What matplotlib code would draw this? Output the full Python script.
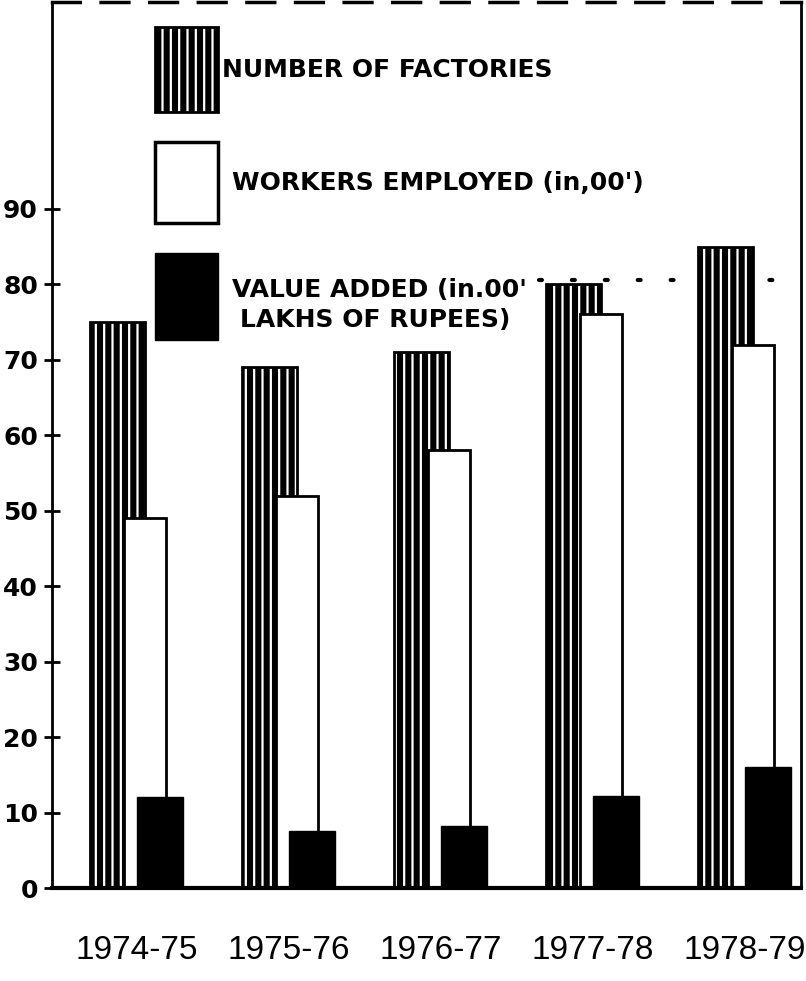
import numpy as np
import matplotlib.pyplot as plt

# Dades llegides del gràfic
anys = ['1974-75', '1975-76', '1976-77', '1977-78', '1978-79']
fabriques = [75, 69, 71, 80, 85]
treballadors = [49, 52, 58, 76, 72]       # en centenars
valor_afegit = [12, 7.5, 8.2, 12.2, 16]   # en centenars de lakhs de rupies
yticks = [0, 10, 20, 30, 40, 50, 60, 70, 80, 90]
nivell_punts = 80.6                       # línia de punts prop de 80

plt.rcParams['hatch.linewidth'] = 1.6

W, H = 806, 981
fig = plt.figure(figsize=(W / 100, H / 100), dpi=100)
# eixos col·locats segons els píxels de l'original
ax = fig.add_axes([52 / W, 1 - 888 / H, (801 - 52) / W, (888 - 2) / H])

x = np.arange(len(anys))

# número de fàbriques: negre amb ratlles blanques verticals
ax.bar(x - 0.125, fabriques, width=0.36, color='black', edgecolor='white',
       hatch='||', linewidth=0, zorder=1)
ax.bar(x - 0.125, fabriques, width=0.36, fill=False, edgecolor='black',
       linewidth=2, zorder=1.5)
# treballadors: blanc amb vora negra
ax.bar(x + 0.056, treballadors, width=0.28, color='white', edgecolor='black',
       linewidth=2, zorder=2)
# valor afegit: negre sòlid
ax.bar(x + 0.155, valor_afegit, width=0.30, color='black', edgecolor='black',
       linewidth=1, zorder=3)

# línia de punts a l'altura de 80
ax.plot([2.65, 4.2], [nivell_punts, nivell_punts], color='black', linewidth=3,
        dashes=(0.7, 7.2), dash_capstyle='round', zorder=0.5)

ax.set_xlim(-0.556, 4.372)
ax.set_ylim(0, 117.4)

ax.set_yticks(yticks)
ax.set_yticklabels([str(v) for v in yticks], fontsize=18, fontweight='bold')
ax.tick_params(axis='y', direction='inout', length=12, width=2, pad=4)

ax.set_xticks(x)
ax.set_xticklabels(anys, fontsize=24, family='Liberation Sans')
ax.tick_params(axis='x', length=0, pad=34)

ax.spines['left'].set_linewidth(2)
ax.spines['bottom'].set_linewidth(3)
ax.spines['right'].set_linewidth(2)
ax.spines['top'].set_linewidth(2.5)
ax.spines['top'].set_linestyle((0, (8, 6)))

# llegenda dibuixada a mà
def px(xp, yp):
    return xp / W, 1 - yp / H

def caixa(x0, y0, x1, y1, **kw):
    fx, fy = px(x0, y1)
    r = plt.Rectangle((fx, fy), (x1 - x0) / W, (y1 - y0) / H,
                      transform=fig.transFigure, **kw)
    fig.add_artist(r)

caixa(155, 27, 218, 112, facecolor='black', edgecolor='white', hatch='||', linewidth=0)
caixa(155, 27, 218, 112, fill=False, edgecolor='black', linewidth=2)
caixa(155, 142, 218, 223, facecolor='white', edgecolor='black', linewidth=2.5)
caixa(155, 253, 218, 340, facecolor='black', edgecolor='black', linewidth=1)

txt = dict(fontsize=18, fontweight='bold', va='center', ha='left')
fig.text(*px(222, 70), 'NUMBER OF FACTORIES', **txt)
fig.text(*px(232, 183), "WORKERS EMPLOYED (in,00')", **txt)
fig.text(*px(232, 290), "VALUE ADDED (in.00'", **txt)
fig.text(*px(240, 320), 'LAKHS OF RUPEES)', **txt)

fig.savefig('out.png', dpi=100)
